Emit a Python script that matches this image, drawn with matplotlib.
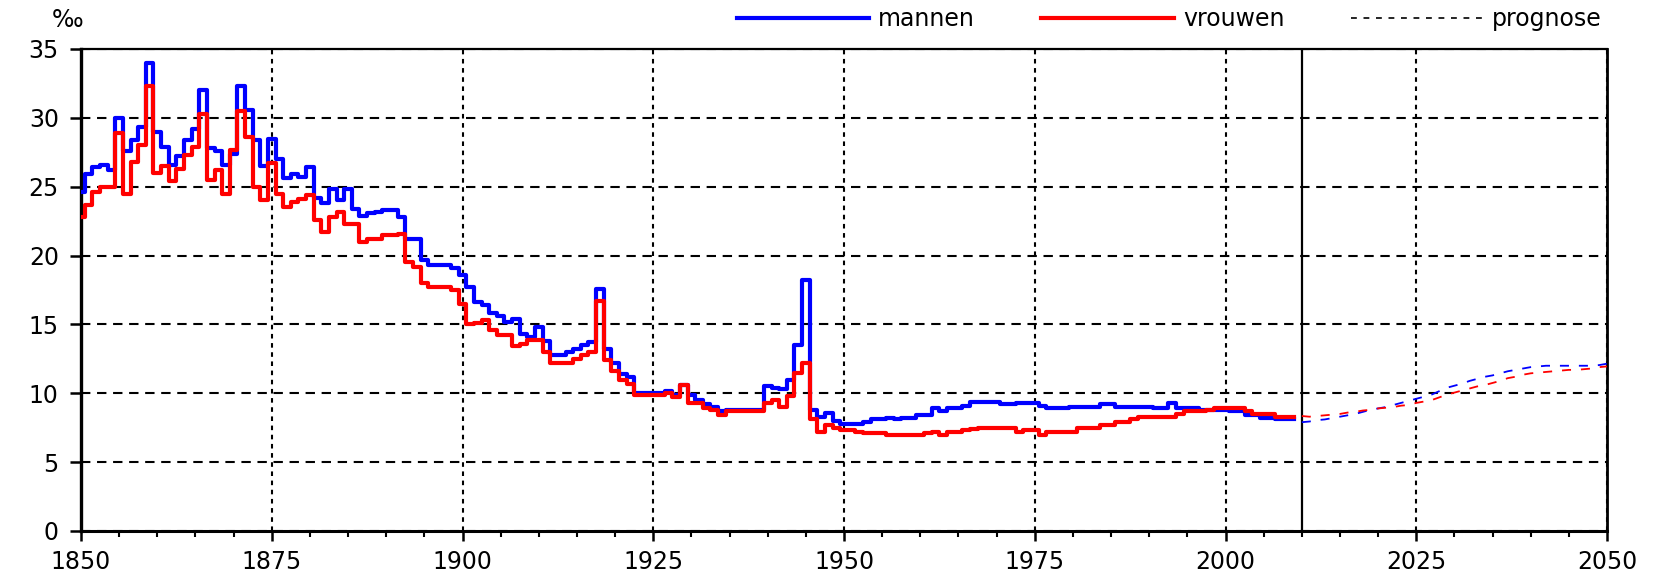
import matplotlib.pyplot as plt
from matplotlib.lines import Line2D

# sterftecijfers (promille), mannen en vrouwen, 1850-2009 + prognose tot 2050
years = list(range(1850, 2010))

mannen = [24.6, 25.9, 26.4, 26.6, 26.2, 30.0, 27.6, 28.4, 29.3, 34.0,   # 1850-1859
          29.0, 27.9, 26.6, 27.2, 28.4, 29.2, 32.0, 27.8, 27.6, 26.6,   # 1860-1869
          27.4, 32.3, 30.6, 28.4, 26.5, 28.5, 27.0, 25.6, 25.9, 25.7,   # 1870-1879
          26.4, 24.2, 23.8, 24.8, 24.0, 24.8, 23.4, 22.9, 23.1, 23.2,   # 1880-1889
          23.3, 23.3, 22.8, 21.2, 21.2, 19.7, 19.3, 19.3, 19.3, 19.1,   # 1890-1899
          18.6, 17.7, 16.6, 16.4, 15.8, 15.6, 15.2, 15.4, 14.3, 14.1,   # 1900-1909
          14.8, 13.8, 12.8, 12.8, 13.0, 13.2, 13.5, 13.7, 17.6, 13.2,   # 1910-1919
          12.2, 11.4, 11.2, 10.0, 10.0, 10.0, 10.0, 10.2, 9.9, 10.6,    # 1920-1929
          9.9, 9.5, 9.2, 9.0, 8.7, 8.8, 8.8, 8.8, 8.8, 8.8,             # 1930-1939
          10.5, 10.4, 10.3, 11.0, 13.5, 18.2, 8.8, 8.3, 8.6, 8.0,       # 1940-1949
          7.8, 7.8, 7.8, 7.9, 8.1, 8.1, 8.2, 8.1, 8.2, 8.2,             # 1950-1959
          8.4, 8.4, 8.9, 8.7, 8.9, 8.9, 9.1, 9.4, 9.4, 9.4,             # 1960-1969
          9.4, 9.2, 9.2, 9.3, 9.3, 9.3, 9.1, 8.9, 8.9, 8.9,             # 1970-1979
          9.0, 9.0, 9.0, 9.0, 9.2, 9.2, 9.0, 9.0, 9.0, 9.0,             # 1980-1989
          9.0, 8.9, 8.9, 9.3, 8.9, 8.9, 8.9, 8.8, 8.8, 8.8,             # 1990-1999
          8.8, 8.7, 8.7, 8.4, 8.4, 8.2, 8.2, 8.1, 8.1, 8.1]             # 2000-2009

vrouwen = [22.8, 23.7, 24.6, 25.0, 25.0, 28.9, 24.5, 26.8, 28.0, 32.3,  # 1850-1859
           26.0, 26.5, 25.4, 26.3, 27.3, 27.9, 30.3, 25.5, 26.2, 24.5,  # 1860-1869
           27.7, 30.5, 28.6, 25.0, 24.0, 26.7, 24.5, 23.5, 23.9, 24.1,  # 1870-1879
           24.4, 22.6, 21.7, 22.8, 23.2, 22.3, 22.3, 21.0, 21.2, 21.2,  # 1880-1889
           21.5, 21.5, 21.6, 19.5, 19.2, 18.0, 17.7, 17.7, 17.7, 17.5,  # 1890-1899
           16.5, 15.0, 15.1, 15.3, 14.6, 14.2, 14.2, 13.4, 13.6, 13.9,  # 1900-1909
           13.9, 13.0, 12.2, 12.2, 12.2, 12.5, 12.8, 13.0, 16.7, 12.4,  # 1910-1919
           11.6, 11.0, 10.7, 9.9, 9.9, 9.9, 9.9, 10.0, 9.7, 10.6,       # 1920-1929
           9.3, 9.3, 8.9, 8.8, 8.4, 8.7, 8.7, 8.7, 8.7, 8.7,            # 1930-1939
           9.3, 9.5, 9.0, 9.8, 11.5, 12.2, 8.1, 7.2, 7.7, 7.5,          # 1940-1949
           7.3, 7.3, 7.2, 7.1, 7.1, 7.1, 7.0, 7.0, 7.0, 7.0,            # 1950-1959
           7.0, 7.1, 7.2, 7.0, 7.2, 7.2, 7.3, 7.4, 7.45, 7.45,          # 1960-1969
           7.45, 7.45, 7.45, 7.2, 7.3, 7.3, 7.0, 7.2, 7.2, 7.2,         # 1970-1979
           7.2, 7.45, 7.45, 7.45, 7.7, 7.7, 7.9, 7.9, 8.1, 8.3,         # 1980-1989
           8.3, 8.3, 8.3, 8.3, 8.5, 8.7, 8.7, 8.7, 8.8, 8.9,            # 1990-1999
           8.9, 8.9, 8.9, 8.7, 8.5, 8.5, 8.5, 8.3, 8.3, 8.3]            # 2000-2009

prog_years = list(range(2010, 2051))

prog_mannen = [7.9, 7.95, 8.05, 8.1, 8.2, 8.3, 8.4, 8.5, 8.65, 8.8,
               8.9, 9.0, 9.15, 9.3, 9.45, 9.6, 9.75, 9.9, 10.15, 10.4,
               10.55, 10.7, 10.9, 11.05, 11.2, 11.3, 11.45, 11.6, 11.7, 11.8,
               11.9, 11.95, 12.0, 12.0, 12.0, 12.0, 12.0, 12.0, 12.0, 12.05,
               12.15]

prog_vrouwen = [8.35, 8.3, 8.35, 8.4, 8.45, 8.5, 8.6, 8.65, 8.75, 8.8,
                8.9, 8.95, 9.0, 9.1, 9.15, 9.3, 9.4, 9.5, 9.7, 9.9,
                10.05, 10.2, 10.35, 10.5, 10.6, 10.75, 10.9, 11.1, 11.2, 11.35,
                11.45, 11.5, 11.55, 11.6, 11.65, 11.7, 11.7, 11.75, 11.8, 11.9,
                11.95]

blue = '#0000ff'
red = '#ff0000'
fs = 17

fig, ax = plt.subplots(figsize=(16.69, 5.76), dpi=100)
fig.subplots_adjust(left=81 / 1669, right=1607 / 1669, bottom=1 - 531 / 576, top=1 - 49 / 576)

ax.step(years, mannen, where='mid', color=blue, lw=3.0, zorder=3)
ax.step(years, vrouwen, where='mid', color=red, lw=3.0, zorder=4)
ax.plot(prog_years, prog_mannen, color=blue, lw=1.3, ls=(0, (5, 5.5)), zorder=3)
ax.plot(prog_years, prog_vrouwen, color=red, lw=1.3, ls=(0, (5, 5.5)), zorder=4)

# einde waarnemingen
ax.axvline(2010, color='black', lw=1.6, zorder=2)

ax.set_xlim(1850, 2050)
ax.set_ylim(0, 35)
ax.set_xticks(range(1850, 2051, 25))
ax.set_xticks(range(1850, 2051, 5), minor=True)
ax.set_yticks(range(0, 36, 5))

ax.xaxis.grid(True, which='major', color='black', lw=1.5, ls=(0, (2.2, 2.2)))
ax.yaxis.grid(True, color='black', lw=1.5, ls=(0, (4.5, 3.2)))

ax.tick_params(axis='x', which='major', direction='out', length=7, width=1.8,
               labelsize=fs, pad=7, colors='black')
ax.tick_params(axis='x', which='minor', direction='out', length=4.5, width=1.5)
ax.tick_params(axis='y', direction='out', length=8, width=1.8, labelsize=fs, pad=8)

for side, lw in [('left', 2.4), ('bottom', 2.2), ('top', 1.6), ('right', 2.0)]:
    ax.spines[side].set_linewidth(lw)
    ax.spines[side].set_color('black')

fig.text(52 / 1669, 1 - 20 / 576, '‰', fontsize=fs, va='center', ha='left')

handles = [Line2D([], [], color=blue, lw=3.0),
           Line2D([], [], color=red, lw=3.0),
           Line2D([], [], color='black', lw=1.2, ls=(0, (3.5, 4)))]
fig.legend(handles, ['mannen', 'vrouwen', 'prognose'], loc='center right',
           bbox_to_anchor=(1602 / 1669, 1 - 19 / 576), ncol=3, frameon=False,
           fontsize=fs, handlelength=5.6, handletextpad=0.4, columnspacing=2.8,
           borderaxespad=0, borderpad=0)

plt.savefig('out.png', dpi=100)
plt.close()
